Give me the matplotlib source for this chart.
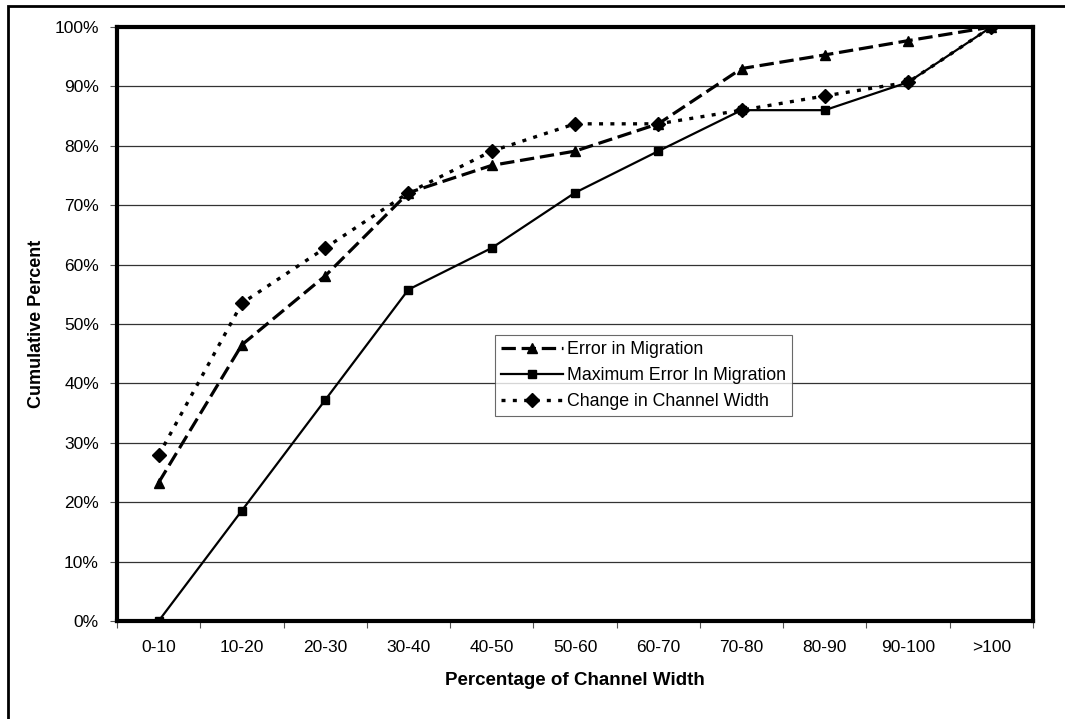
import matplotlib
matplotlib.use("Agg")
import matplotlib.pyplot as plt
from matplotlib.patches import Rectangle
from matplotlib.ticker import MultipleLocator, FixedLocator, NullFormatter

plt.rcParams['font.family'] = ['Liberation Sans', 'DejaVu Sans']

# data (cumulative percent)
categories = ["0-10", "10-20", "20-30", "30-40", "40-50", "50-60",
              "60-70", "70-80", "80-90", "90-100", ">100"]
error_migration = [23.3, 46.5, 58.1, 72.1, 76.7, 79.1, 83.7, 93.0, 95.3, 97.7, 100]
max_error_migration = [0, 18.6, 37.2, 55.8, 62.8, 72.1, 79.1, 86.0, 86.0, 90.7, 100]
change_width = [27.9, 53.5, 62.8, 72.1, 79.1, 83.7, 83.7, 86.0, 88.4, 90.7, 100]

fig = plt.figure(figsize=(10.65, 7.19), dpi=100)
ax = fig.add_axes([117/1065, 1 - 621/719, (1033 - 117)/1065, (621 - 27)/719])

x = list(range(len(categories)))

# outer frame
fig.patches.append(Rectangle((8/1065, -0.05), 1.1, 1 - 6/719 + 0.05,
                             transform=fig.transFigure, fill=False,
                             edgecolor='black', linewidth=2, clip_on=False))

ax.plot(x, error_migration, color='black', lw=2.3, dashes=(4.5, 1.8),
        marker='^', markersize=7.5, label='Error in Migration')
ax.plot(x, max_error_migration, color='black', lw=1.6, linestyle='-',
        marker='s', markersize=5.5, label='Maximum Error In Migration')
ax.plot(x, change_width, color='black', lw=2.4, dashes=(1.2, 2.2),
        marker='D', markersize=7, label='Change in Channel Width')

ax.set_xlim(-0.5, len(categories) - 0.5)
ax.set_ylim(0, 100)

ax.yaxis.set_major_locator(MultipleLocator(10))
ax.set_yticklabels([f"{int(v)}%" for v in ax.get_yticks()])
ax.grid(axis='y', color='#333333', linewidth=0.9)
ax.set_axisbelow(True)

ax.xaxis.set_major_locator(FixedLocator([i - 0.5 for i in range(len(categories) + 1)]))
ax.xaxis.set_major_formatter(NullFormatter())
ax.xaxis.set_minor_locator(FixedLocator(x))
ax.set_xticklabels(categories, minor=True)
ax.tick_params(axis='x', which='minor', length=0, pad=14, labelsize=12.5)
ax.tick_params(axis='x', which='major', length=5, width=0.8, color='#555555')
ax.tick_params(axis='y', length=5, width=0.8, color='#555555', labelsize=12.5, pad=8)

for s in ax.spines.values():
    s.set_linewidth(3)

ax.set_xlabel("Percentage of Channel Width", fontsize=13.5, fontweight='bold', labelpad=12)
ax.set_ylabel("Cumulative Percent", fontsize=13, fontweight='bold', labelpad=7)

leg = ax.legend(loc='upper left', bbox_to_anchor=((495 - 117)/916, (621 - 335)/594),
                fontsize=12.8, frameon=True, fancybox=False, edgecolor='#444444',
                handlelength=3.5, borderpad=0.35, labelspacing=0.5, handletextpad=0.2,
                borderaxespad=0)
leg.get_frame().set_linewidth(0.8)

fig.savefig("out.png", dpi=100)
